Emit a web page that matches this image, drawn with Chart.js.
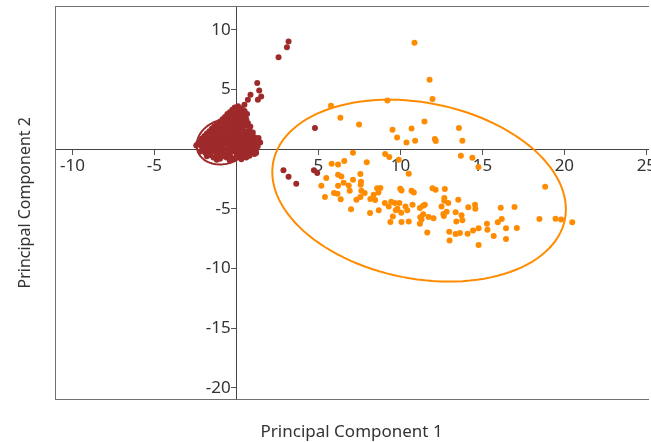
<!DOCTYPE html>
<html>
<head>
<meta charset="utf-8">
<script src="https://cdn.jsdelivr.net/npm/chart.js@4.4.0/dist/chart.umd.min.js"></script>
<style>
html, body { margin: 0; padding: 0; background: #fff; }
#wrap { width: 651px; height: 442px; }
</style>
</head>
<body>
<div id="wrap"><canvas id="chart"></canvas></div>
<script>
const xTitle = 'Principal Component 1';
const yTitle = 'Principal Component 2';
const xTicks = [-10, -5, 5, 10, 15, 20, 25];
const yTicks = [-20, -15, -10, -5, 5, 10];

// group 1 (dark red): outliers first, then the dense cluster round the origin
const redX = [3.18, 3.08, 2.57, 1.27, 1.39, 0.86, 1.51, 1.31, 0.70, 0.49, 1.35, 1.45, 1.20,
    4.79, 2.87, 3.18, 3.65, 4.73, 4.93,
    -0.1, 0.1, 0.3,
    -0.4, -0.1, 0.2, 0.5,
    -0.7, -0.5, -0.2, 0.1, 0.4, 0.6,
    -1.0, -0.8, -0.5, -0.2, 0.1, 0.4, 0.7,
    -1.35, -1.1, -0.8, -0.5, -0.2, 0.1, 0.4, 0.8,
    -1.65, -1.4, -1.1, -0.8, -0.5, -0.2, 0.1, 0.5, 0.9,
    -1.95, -1.6, -1.3, -1.0, -0.7, -0.4, -0.1, 0.2, 0.6, 1.0,
    -2.25, -1.9, -1.6, -1.3, -1.0, -0.7, -0.4, -0.1, 0.2, 0.5, 0.8, 1.1,
    -2.45, -2.1, -1.8, -1.5, -1.2, -0.9, -0.6, -0.3, 0.0, 0.3, 0.6, 0.9, 1.2,
    -2.2, -1.9, -1.6, -1.3, -1.0, -0.7, -0.4, -0.1, 0.2, 0.5, 0.8, 1.1,
    -1.8, -1.4, -1.0, -0.6, -0.2, 0.2, 0.6,
    -1.2, -0.4, 0.3,
    // in-between rows to close the gaps
    -0.25, 0.05, 0.35,
    -0.55, -0.25, 0.05, 0.35, 0.65,
    -0.85, -0.6, -0.35, -0.05, 0.25, 0.55,
    -1.2, -0.95, -0.65, -0.35, -0.05, 0.25, 0.55, 0.85,
    -1.5, -1.25, -0.95, -0.65, -0.35, -0.05, 0.3, 0.65, 1.0,
    -1.8, -1.45, -1.15, -0.85, -0.55, -0.25, 0.05, 0.35, 0.75, 1.1,
    -2.1, -1.75, -1.45, -1.15, -0.85, -0.55, -0.25, 0.05, 0.35, 0.65, 0.95, 1.25,
    -2.35, -2.0, -1.7, -1.4, -1.1, -0.8, -0.5, -0.2, 0.1, 0.4, 0.7, 1.0, 1.3,
    -2.05, -1.75, -1.45, -1.15, -0.85, -0.55, -0.25, 0.05, 0.35, 0.65, 0.95,
    -1.6, -1.2, -0.8, -0.4, 0.0, 0.4, 0.8];
const redY = [9.02, 8.55, 7.71, 5.54, 4.92, 4.56, 4.41, 4.14, 4.14, 3.72, 0.93, 0.56, -0.33,
    1.77, -1.78, -2.31, -2.90, -1.78, -2.00,
    3.5, 3.6, 3.4,
    3.1, 3.2, 3.0, 3.2,
    2.7, 2.8, 2.6, 2.8, 2.7, 2.5,
    2.3, 2.2, 2.4, 2.2, 2.3, 2.1, 2.2,
    1.9, 1.8, 1.9, 1.7, 1.9, 1.7, 1.8, 1.6,
    1.5, 1.4, 1.5, 1.3, 1.5, 1.3, 1.4, 1.3, 1.2,
    1.1, 1.0, 1.1, 0.9, 1.1, 0.9, 1.0, 1.1, 0.9, 0.8,
    0.6, 0.7, 0.5, 0.7, 0.5, 0.7, 0.5, 0.6, 0.7, 0.5, 0.6, 0.4,
    0.3, 0.2, 0.1, 0.3, 0.1, 0.2, 0.0, 0.2, 0.1, 0.2, 0.1, 0.2, 0.0,
    -0.2, -0.3, -0.4, -0.2, -0.4, -0.3, -0.4, -0.2, -0.3, -0.4, -0.2, -0.4,
    -0.6, -0.7, -0.8, -0.7, -0.8, -0.6, -0.7,
    -0.9, -0.95, -0.85,
    3.3, 3.35, 3.25,
    2.95, 2.9, 3.0, 2.9, 2.95,
    2.5, 2.45, 2.55, 2.4, 2.5, 2.35,
    2.1, 2.0, 2.05, 2.0, 2.1, 1.95, 2.0, 1.9,
    1.7, 1.65, 1.6, 1.7, 1.6, 1.65, 1.55, 1.5, 1.4,
    1.3, 1.25, 1.3, 1.2, 1.3, 1.2, 1.25, 1.2, 1.1, 1.0,
    0.9, 0.85, 0.9, 0.8, 0.9, 0.8, 0.85, 0.8, 0.9, 0.75, 0.8, 0.7,
    0.45, 0.4, 0.35, 0.45, 0.35, 0.4, 0.35, 0.45, 0.35, 0.4, 0.35, 0.3, 0.25,
    0.05, -0.05, -0.1, 0.0, -0.1, -0.05, -0.1, 0.0, -0.05, -0.1, -0.05,
    -0.5, -0.55, -0.6, -0.55, -0.6, -0.5, -0.55];

// group 2 (orange)
const orangeX = [10.86, 11.78, 11.96, 5.77, 9.21, 6.34, 7.48, 9.52, 9.80, 11.47, 10.68, 10.37, 10.90,
    12.10, 12.16, 13.57, 13.78, 13.69, 14.39, 14.76, 7.11, 9.07, 9.32, 9.90, 10.51, 5.81, 6.20,
    6.58, 7.95, 5.48, 5.18, 6.20, 6.40, 6.54, 6.20, 6.85, 7.11, 7.56, 7.60, 7.58, 6.91, 7.62,
    7.82, 5.95, 6.16, 6.36, 5.40, 6.99, 7.56, 7.32, 8.17, 8.37, 8.58, 8.78, 8.66, 8.46, 8.68,
    8.15, 9.05, 9.29, 9.44, 9.66, 9.94, 9.54, 9.39, 9.99, 10.07, 9.82, 10.05, 10.07, 9.72,
    10.68, 10.82, 11.96, 12.15, 12.71, 13.53, 12.68, 12.68, 12.92, 12.51, 12.82, 12.62, 12.65,
    13.37, 13.73, 13.41, 13.78, 14.55, 14.57, 14.14, 16.12, 16.96, 16.18, 15.94, 15.28, 15.31,
    14.77, 14.43, 14.10, 13.63, 13.37, 12.98, 13.00, 11.64, 15.69, 16.44, 17.10, 16.44, 14.77,
    18.48, 19.46, 19.80, 20.48, 18.83, 10.31, 10.42, 11.19, 11.39, 11.49, 11.39, 11.21, 11.29,
    10.51, 11.19, 11.72, 12.02, 10.74];
const orangeY = [8.91, 5.81, 4.20, 3.63, 4.08, 2.63, 2.07, 1.62, 0.98, 2.32, 1.73, 0.56, 0.70,
    0.85, 0.68, 1.77, 0.70, -0.55, -0.72, -1.50, -0.30, -0.41, -0.66, -0.89, -2.06, -1.22, -1.28,
    -1.00, -1.11, -2.42, -3.07, -2.14, -2.29, -2.81, -3.07, -3.04, -2.56, -2.09, -2.73, -2.98, -3.48, -3.48,
    -3.68, -3.68, -3.74, -4.21, -4.01, -5.05, -4.01, -4.24, -4.18, -3.82, -3.29, -3.26, -3.63, -4.26, -5.13,
    -5.35, -4.51, -4.80, -4.41, -4.51, -4.51, -5.64, -6.11, -3.32, -3.46, -4.99, -5.33, -6.11, -5.13,
    -3.48, -3.63, -3.29, -3.40, -3.34, -4.24, -4.10, -4.32, -4.51, -4.80, -5.24, -5.44, -5.60,
    -5.30, -5.55, -6.06, -5.97, -4.66, -4.99, -4.88, -4.91, -4.85, -5.85, -6.14, -6.25, -6.75,
    -6.64, -6.83, -7.09, -7.03, -7.11, -6.92, -7.67, -7.00, -7.28, -6.64, -6.61, -7.53, -8.03,
    -5.85, -5.83, -5.91, -6.14, -3.15, -4.80, -5.13, -4.93, -4.74, -4.66, -5.47, -5.72, -5.91,
    -6.06, -6.25, -5.69, -5.80, -4.66];

// confidence ellipses: centre x, centre y, then the two half-axis vectors (x, y)
const redEllipse = [-0.75, 0.62, 1.61, 0.80, 0.46, -1.73];
const orangeEllipse = [11.14, -3.48, 8.89, -2.42, -1.05, -7.23];

const red = '#9e2a2b';
const orange = '#ff8c00';
const tickFont = { family: "'Noto Sans', sans-serif", size: 17 };
const xTitleFont = { family: "'Noto Sans', sans-serif", size: 17 };
const yTitleFont = { family: "'Noto Sans', sans-serif", size: 16 };

function toPoints(xs, ys) {
    return xs.map((x, i) => ({ x: x, y: ys[i] }));
}

const ellipses = {
    id: 'ellipses',
    beforeDatasetsDraw(chart) {
        const { ctx, scales: { x, y } } = chart;
        [[redEllipse, red], [orangeEllipse, orange]].forEach(([e, color]) => {
            ctx.save();
            ctx.beginPath();
            for (let i = 0; i <= 120; i++) {
                const t = i / 120 * Math.PI * 2;
                const px = x.getPixelForValue(e[0] + e[2] * Math.cos(t) + e[4] * Math.sin(t));
                const py = y.getPixelForValue(e[1] + e[3] * Math.cos(t) + e[5] * Math.sin(t));
                if (i === 0) ctx.moveTo(px, py); else ctx.lineTo(px, py);
            }
            ctx.strokeStyle = color;
            ctx.lineWidth = 2;
            ctx.stroke();
            ctx.restore();
        });
    }
};

function hiddenScale(position, title, font, padding) {
    return {
        type: 'linear',
        position: position,
        min: 0,
        max: 1,
        ticks: { display: false },
        grid: { display: false, drawTicks: false },
        border: { display: true, color: '#707070', width: 1 },
        title: { display: !!title, text: title, color: '#333', font: font, padding: padding }
    };
}

// the centred axes should not push the plot frame inwards for their end labels
function noLabelPadding(scale) {
    scale.paddingLeft = 0;
    scale.paddingRight = 0;
    scale.paddingTop = 0;
    scale.paddingBottom = 0;
}

function renderChart() {
    const ctx = document.getElementById('chart').getContext('2d');
    const chart = new Chart(ctx, {
        type: 'scatter',
        data: {
            datasets: [
                {
                    label: 'Group 1',
                    data: toPoints(redX, redY),
                    backgroundColor: red,
                    pointRadius: 3,
                    pointHoverRadius: 3,
                    pointBorderWidth: 0
                },
                {
                    label: 'Group 2',
                    data: toPoints(orangeX, orangeY),
                    backgroundColor: orange,
                    pointRadius: 3,
                    pointHoverRadius: 3,
                    pointBorderWidth: 0
                }
            ]
        },
        options: {
            responsive: true,
            maintainAspectRatio: false,
            animation: false,
            events: [],
            layout: { padding: { top: 6, right: 0, bottom: 0, left: 0 } },
            plugins: { legend: { display: false }, tooltip: { enabled: false } },
            scales: {
                x: {
                    type: 'linear',
                    position: { y: 0 },
                    min: -11.05,
                    max: 25.1,
                    afterBuildTicks: s => { s.ticks = xTicks.map(v => ({ value: v })); },
                    afterFit: noLabelPadding,
                    grid: { drawOnChartArea: false, drawTicks: true, tickLength: 5, color: '#555' },
                    border: { color: '#444', width: 1 },
                    ticks: { color: '#333', font: tickFont, padding: 2, maxRotation: 0, autoSkip: false }
                },
                y: {
                    type: 'linear',
                    position: { x: 0 },
                    min: -21,
                    max: 12,
                    afterBuildTicks: s => { s.ticks = yTicks.map(v => ({ value: v })); },
                    afterFit: noLabelPadding,
                    grid: { drawOnChartArea: false, drawTicks: true, tickLength: 5, color: '#555' },
                    border: { color: '#444', width: 1 },
                    ticks: {
                        color: '#333', font: tickFont, autoSkip: false,
                        // labels of an axis placed at a value sit flush on the line; keep them clear of the tick mark
                        callback: v => v + '\u2009\u2009'
                    }
                },
                xBottom: hiddenScale('bottom', xTitle, xTitleFont, { top: 22, bottom: 0 }),
                xTop: hiddenScale('top', '', xTitleFont, 0),
                yLeft: hiddenScale('left', yTitle, yTitleFont, { top: 16, bottom: 20 })
            }
        },
        plugins: [ellipses]
    });
}

renderChart();
</script>
</body>
</html>
